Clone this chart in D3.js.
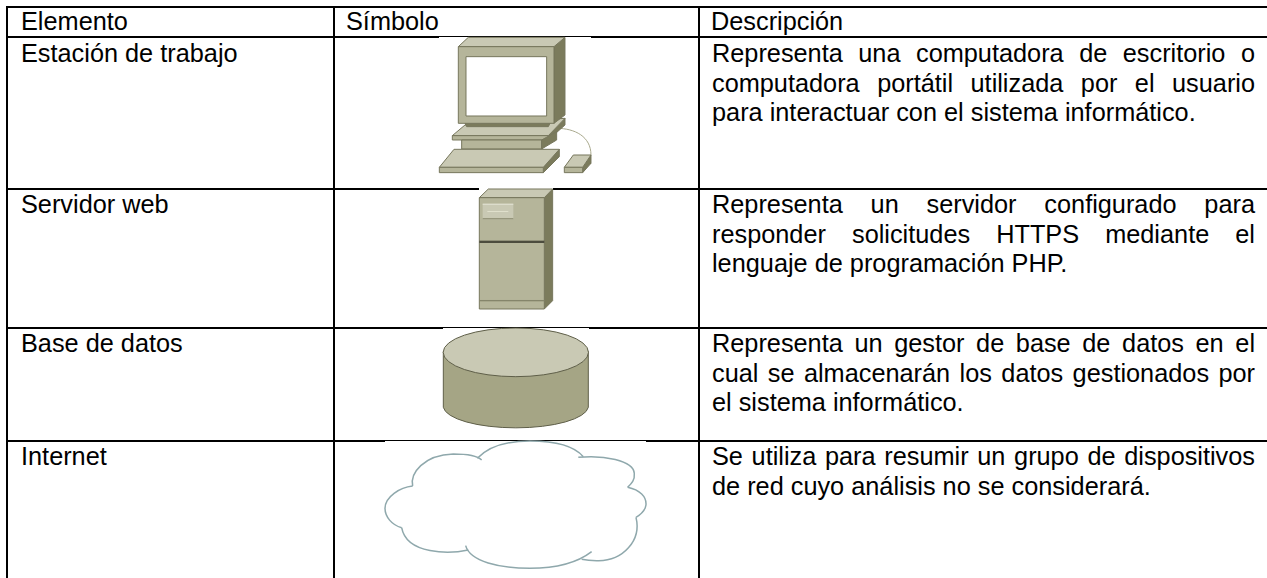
<!DOCTYPE html>
<html>
<head>
<meta charset="utf-8">
<script src="https://cdn.jsdelivr.net/npm/d3@7"></script>
<style>
html, body { margin: 0; padding: 0; background: #fff; overflow: hidden; }
</style>
</head>
<body>
<div id="chart"></div>
<script>
// table contents
var headers = ["Elemento", "Símbolo", "Descripción"];
var elements = ["Estación de trabajo", "Servidor web", "Base de datos", "Internet"];
var descriptions = [
    ["Representa una computadora de escritorio o", "computadora portátil utilizada por el usuario", "para interactuar con el sistema informático."],
    ["Representa un servidor configurado para", "responder solicitudes HTTPS mediante el", "lenguaje de programación PHP."],
    ["Representa un gestor de base de datos en el", "cual se almacenarán los datos gestionados por", "el sistema informático."],
    ["Se utiliza para resumir un grupo de dispositivos", "de red cuyo análisis no se considerará."]
];

var width = 1267, height = 578;
var colX = [7, 334, 699];
var rowY = [7, 37, 189, 328, 441];
var headerBase = 30;
var firstBase = [62, 213, 352, 465];
var lineGap = 29.5;
var fontSize = 25.3;
var textRight = 1255;

var top_ = "#c9c9b4", front = "#b5b59a", side = "#7b7b5c", edge = "#76765c", dark = "#4c4c3e";

var svg = d3.select("#chart").append("svg")
    .attr("width", width)
    .attr("height", height)
    .style("display", "block");

// grid lines
svg.selectAll("line.col").data(colX).enter().append("line")
    .attr("class", "col")
    .attr("x1", function(d) { return d; }).attr("x2", function(d) { return d; })
    .attr("y1", rowY[0] - 1).attr("y2", height)
    .attr("stroke", "#000").attr("stroke-width", 2);
svg.selectAll("line.row").data(rowY).enter().append("line")
    .attr("class", "row")
    .attr("x1", colX[0]).attr("x2", width)
    .attr("y1", function(d) { return d; }).attr("y2", function(d) { return d; })
    .attr("stroke", "#000").attr("stroke-width", 2);

var font = "'Liberation Sans', Arial, sans-serif";

function label(x, y, str) {
    return svg.append("text").attr("x", x).attr("y", y)
        .attr("font-family", font).attr("font-size", fontSize).attr("fill", "#000").text(str);
}

label(21, headerBase, headers[0]);
label(346, headerBase, headers[1]);
label(711, headerBase, headers[2]);

elements.forEach(function(e, i) {
    label(21, firstBase[i], e);
});

// description lines are justified like in the source document
descriptions.forEach(function(lines, i) {
    lines.forEach(function(l, j) {
        var t = label(712, firstBase[i] + j * lineGap, l);
        if (j < lines.length - 1) {
            var w = t.node().getComputedTextLength();
            var gaps = l.split(" ").length - 1;
            t.attr("word-spacing", (textRight - 712 - w) / gaps);
        }
    });
});

// icons: the pictures sit on white backgrounds that cut into the row lines
function mask(x, y, w, h) {
    svg.append("rect").attr("x", x).attr("y", y).attr("width", w).attr("height", h).attr("fill", "#fff");
}
mask(439, 37, 152, 10);
mask(479, 188, 74, 4);
mask(443, 328, 146, 6);
mask(385, 441, 261, 6);

// local icon coords are in thirds of a pixel
function icon(x, y) {
    return svg.append("g").attr("transform", "translate(" + x + "," + y + ") scale(0.3333)");
}
function poly(g, pts, fill) {
    g.append("polygon")
        .attr("points", pts.map(function(p) { return p.join(","); }).join(" "))
        .attr("fill", fill)
        .attr("stroke", edge)
        .attr("stroke-width", 3)
        .attr("stroke-linejoin", "round");
}
function box(g, x0, x1, y0, y1, fill) {
    poly(g, [[x0, y0], [x1, y0], [x1, y1], [x0, y1]], fill);
}

// workstation
var pc = icon(400, 20);
pc.append("path").attr("d", "M470,325 C525,325 573,350 573,405")
    .attr("fill", "none").attr("stroke", "#a9a98d").attr("stroke-width", 3);
poly(pc, [[445, 347], [495, 295], [495, 315], [445, 360]], side);
poly(pc, [[157, 347], [195, 315], [495, 295], [445, 347]], top_);
box(pc, 157, 445, 347, 360, front);
box(pc, 185, 425, 360, 387, front);
poly(pc, [[425, 360], [470, 335], [470, 360], [425, 387]], side);
poly(pc, [[195, 310], [450, 310], [445, 320], [200, 320]], side);
poly(pc, [[462, 80], [495, 52], [495, 285], [462, 310]], side);
poly(pc, [[175, 80], [205, 52], [495, 52], [462, 80]], top_);
box(pc, 175, 462, 80, 310, front);
box(pc, 198, 440, 110, 288, "#fff");
poly(pc, [[430, 442], [478, 388], [478, 410], [430, 458]], side);
poly(pc, [[118, 442], [162, 388], [478, 388], [430, 442]], top_);
box(pc, 118, 430, 442, 458, front);
poly(pc, [[548, 442], [573, 405], [573, 430], [548, 458]], side);
poly(pc, [[493, 442], [520, 405], [573, 405], [548, 442]], top_);
box(pc, 493, 548, 442, 458, front);

// web server
var srv = icon(420, 180);
poly(srv, [[373, 53], [398, 27], [398, 362], [373, 387]], side);
poly(srv, [[178, 53], [205, 27], [398, 27], [373, 53]], top_);
box(srv, 178, 373, 53, 387, front);
srv.append("rect").attr("x", 178).attr("y", 182).attr("width", 195).attr("height", 7).attr("fill", dark);
srv.append("rect").attr("x", 178).attr("y", 360).attr("width", 195).attr("height", 4).attr("fill", "#85856b");
srv.append("rect").attr("x", 188).attr("y", 72).attr("width", 92).attr("height", 46).attr("fill", top_);
srv.append("rect").attr("x", 188).attr("y", 71).attr("width", 92).attr("height", 3).attr("fill", "#e6e6d8");
srv.append("rect").attr("x", 188).attr("y", 114).attr("width", 92).attr("height", 4).attr("fill", "#96967c");
srv.append("rect").attr("x", 202).attr("y", 93).attr("width", 63).attr("height", 3).attr("fill", "#e0e0cc");

// database
var db = icon(370, 320);
db.append("path").attr("d", "M220,95 L220,262 A218,66 0 0 0 655,262 L655,95 Z")
    .attr("fill", "#a5a585").attr("stroke", "#5e5e48").attr("stroke-width", 3);
db.append("ellipse").attr("cx", 437.5).attr("cy", 97).attr("rx", 218).attr("ry", 73)
    .attr("fill", top_).attr("stroke", "#5e5e48").attr("stroke-width", 3);

// cloud
var cloudArcs = [
    "M128,168 C120,130 160,75 250,72 C300,72 325,80 335,90",
    "M322,85 C360,45 420,33 480,33 C550,33 610,45 640,80",
    "M625,82 C700,75 790,90 793,130 C795,150 785,160 773,172",
    "M773,172 C810,180 830,200 828,225 C825,245 810,255 798,262",
    "M798,262 C815,330 760,395 680,392 C660,392 645,390 635,388",
    "M665,365 C620,400 550,415 480,415 C390,415 300,395 287,347",
    "M295,360 C240,372 110,375 95,293",
    "M95,293 C65,285 45,260 45,235 C45,200 90,172 128,168"
];
var cloud = icon(370, 430);
cloud.selectAll("path").data(cloudArcs).enter().append("path")
    .attr("d", function(d) { return d; })
    .attr("fill", "none")
    .attr("stroke", "#8fa8ac")
    .attr("stroke-width", 4.5);
</script>
</body>
</html>
